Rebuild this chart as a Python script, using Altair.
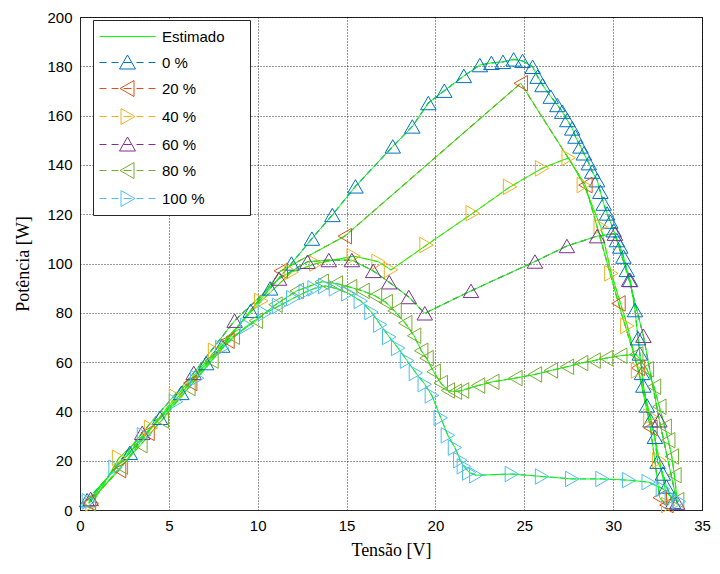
import altair as alt
import pandas as pd

# ---------------- data ----------------
niveis = ["0 %", "20 %", "40 %", "60 %", "80 %", "100 %"]
cores = ["#0072BD", "#D95319", "#EDB120", "#7E2F8E", "#77AC30", "#4DBEEE"]
formas = ["triangle-up", "triangle-left", "triangle-right",
          "triangle-up", "triangle-left", "triangle-right"]

v_0 = [0.4, 2.8, 4.5, 5.7, 7.1, 8.0, 9.6, 10.7, 11.9, 13.05, 14.2, 15.5, 17.6, 18.7,
       19.6, 20.5, 21.6, 22.5, 23.15, 23.8, 24.4, 24.9, 25.47, 25.75, 26.03, 26.49,
       26.86, 27.14, 27.42, 27.7, 27.88, 28.16, 28.35, 28.63, 28.82, 29.1, 29.28,
       29.47, 29.66, 29.84, 30.03, 30.21, 30.4, 30.58, 30.77, 30.96, 31.23, 31.4,
       31.5, 31.62, 31.7, 31.9, 32.1, 32.35, 32.5, 32.8, 33.0, 33.37]
p_0 = [4, 23.2, 37.4, 47.5, 59.6, 66.7, 80.8, 89.9, 100, 110.1, 119.7, 131.3, 147.5, 155.6,
       165.1, 170.1, 176.1, 180.5, 181.4, 181.8, 182.8, 182.2, 179.8, 175.8, 172.4, 167.7,
       164.3, 161.6, 158.2, 154.8, 151.5, 147.5, 144.7, 140.7, 137.3, 133.8, 129.1,
       124.3, 120.3, 117, 113.5, 109.5, 106.9, 102.8, 97.4, 93.3, 81.1, 69.7,
       63.5, 55.6, 50.5, 42.4, 36.4, 29.7, 19.6, 14.8, 9.5, 3.3]

v_20 = [0.5, 2.2, 3.8, 6.2, 8.3, 11.3, 14.9, 24.8, 28.44, 30.3, 31.4, 32.1, 32.62, 33.0]
p_20 = [3, 16.2, 31.3, 51.5, 68.7, 97, 111.1, 173.1, 131.8, 83.8, 57.6, 33.3, 5, 2]

v_40 = [0.7, 2.2, 4.0, 5.4, 7.6, 10.2, 11.9, 13.3, 15.4, 16.8, 17.5, 19.5, 22.1, 24.2,
        26.0, 27.5, 28.35, 29.3, 29.9, 30.8, 31.4, 32.1, 32.6, 33.1]
p_40 = [2.7, 21.2, 33.3, 46, 64.6, 84.8, 96.5, 100, 103, 100.7, 97.4, 107.5, 120.4, 131.1,
        138.6, 142.9, 131.8, 115, 96, 74.7, 56.6, 37.9, 20.2, 2]

v_60 = [0.6, 3.5, 6.4, 8.7, 11.2, 12.8, 14.0, 15.3, 16.5, 17.4, 18.5, 19.4, 22.0,
        25.6, 27.4, 29.1, 30.1, 30.9, 31.7, 32.6, 33.6]
p_60 = [4.5, 31.3, 55.6, 76.8, 93.9, 100.7, 101.4, 101.4, 97, 92.4, 86.4, 79.8, 88.9,
        100.8, 107.1, 111.1, 112.1, 93.4, 70.7, 36.4, 3]

v_80 = [0.5, 2.3, 3.4, 4.6, 6.1, 7.4, 8.6, 9.9, 11.0, 12.2, 13.6, 14.4, 15.2, 15.9,
        16.6, 17.2, 17.7, 18.3, 18.8, 19.2, 19.5, 19.9, 20.3, 20.7, 21.1, 21.5, 22.4,
        23.2, 24.5, 25.6, 26.5, 27.4, 28.2, 28.9, 29.6, 30.4, 31.3, 31.9, 32.3, 32.6,
        32.9, 33.1, 33.3, 33.45, 33.6]
p_80 = [2.7, 17.6, 26.3, 36.4, 49.5, 60.6, 70.3, 76.8, 83.3, 88.9, 92.6, 91.9, 90.4, 88.9,
        86.9, 84.3, 80.8, 75.8, 70.7, 64.6, 61.6, 56.1, 51.5, 48.5, 48, 48.5, 50.5,
        52, 53.5, 55, 56.6, 58.1, 59.6, 60.6, 61.6, 62.6, 63.1, 57.1, 50, 41.9,
        33.8, 28.3, 21.7, 14.1, 4]

v_100 = [0.5, 2.0, 3.6, 5.4, 6.6, 8.0, 9.4, 10.4, 11.2, 12.0, 12.7, 13.2, 13.8, 14.4,
         15.1, 15.8, 16.4, 16.9, 17.4, 17.9, 18.4, 18.9, 19.4, 19.8, 20.3, 20.7, 21.1,
         21.4, 21.6, 21.9, 22.3, 24.3, 26.0, 27.7, 29.4, 30.9, 32.0, 32.8, 33.3, 33.7]
p_100 = [3.5, 17.2, 30.3, 43.9, 53.5, 65.7, 74.7, 79.8, 82.8, 85.9, 88.4, 89.9, 90.9, 89.9,
         87.9, 84.8, 80.3, 75.2, 70.2, 65.7, 60.6, 55.6, 51, 46.5, 37.4, 30.3, 25.3,
         20.2, 17.7, 15.2, 14.1, 14.6, 13.6, 12.6, 12.6, 12.1, 11.3, 8.6, 5, 3.5]

tensoes = [v_0, v_20, v_40, v_60, v_80, v_100]
potencias = [p_0, p_20, p_40, p_60, p_80, p_100]

ticks_x = [0, 5, 10, 15, 20, 25, 30, 35]
ticks_y = [0, 20, 40, 60, 80, 100, 120, 140, 160, 180, 200]

legenda_nomes = ["Estimado"] + niveis
legenda_cores = ["#00FF00"] + cores

# ---------------- table ----------------
linhas = []
for nivel, vs, ps in zip(niveis, tensoes, potencias):
    for i, (v, p) in enumerate(zip(vs, ps)):
        linhas.append({"serie": nivel, "V": v, "P": p, "ordem": i})
df = pd.DataFrame(linhas)

# legend symbol paths (dashed line + triangle)
tracejado = "M-2.8,0H-2.1M-1.6,0H-0.9M-0.4,0H0.4M0.9,0H1.6M2.1,0H2.8"
tri = {
    "triangle-up": "M0,-0.75L0.8,0.65L-0.8,0.65Z",
    "triangle-left": "M-0.75,0L0.65,-0.8L0.65,0.8Z",
    "triangle-right": "M0.75,0L-0.65,-0.8L-0.65,0.8Z",
}
legenda_formas = ["M-2.8,0H2.8"] + [tracejado + tri[f] for f in formas]

x = alt.X("V:Q", scale=alt.Scale(domain=[0, 35], nice=False),
          axis=alt.Axis(values=ticks_x, title="Tensão [V]"))
y = alt.Y("P:Q", scale=alt.Scale(domain=[0, 200], nice=False),
          axis=alt.Axis(values=ticks_y, title="Potência [W]"))

cor = alt.Color("serie:N", scale=alt.Scale(domain=niveis, range=cores), legend=None)

tracos = alt.Chart(df).mark_line(strokeWidth=1.2, strokeDash=[6, 4]).encode(
    x=x, y=y, color=cor, order="ordem:Q")

estimado = alt.Chart(df).mark_line(color="#00FF00", strokeWidth=1).encode(
    x=x, y=y, detail="serie:N", order="ordem:Q")

pontos = alt.Chart(df).mark_point(size=240, filled=False, strokeWidth=1, opacity=1).encode(
    x=x, y=y, color=cor,
    shape=alt.Shape("serie:N", scale=alt.Scale(domain=niveis, range=formas), legend=None))

leg = alt.Legend(title=".", titleColor="white", titleOrient="right", titlePadding=16,
                 titleFontSize=10,
                 orient="none", legendX=13, legendY=3,
                 strokeColor="#262626", fillColor="white", padding=6,
                 labelFont="Liberation Sans", labelFontSize=15, labelColor="black",
                 rowPadding=7, symbolStrokeWidth=1, symbolSize=400,
                 symbolOffset=18, labelOffset=24, symbolOpacity=1)

df_leg = pd.DataFrame({"rotulo": legenda_nomes})
legenda = alt.Chart(df_leg).mark_point(size=400, filled=False, strokeWidth=1).encode(
    color=alt.Color("rotulo:N", scale=alt.Scale(domain=legenda_nomes, range=legenda_cores),
                    legend=leg),
    shape=alt.Shape("rotulo:N", scale=alt.Scale(domain=legenda_nomes, range=legenda_formas),
                    legend=leg),
).transform_filter("false")

chart = alt.layer(tracos, estimado, pontos, legenda).resolve_scale(
    shape="independent", color="independent"
).properties(
    width=622, height=493,
    autosize=alt.AutoSizeParams(type="none"),
    padding={"left": 72, "top": 9, "right": 10, "bottom": 56},
).configure_view(
    stroke="#262626", strokeWidth=1
).configure_axis(
    labelFont="Liberation Sans", labelFontSize=15, labelColor="black",
    titleFont="Liberation Serif", titleFontSize=18, titleFontWeight="normal",
    titleColor="black", ticks=False, labelPadding=8, labelFlush=False,
    domainColor="#262626", gridColor="#000000", gridDash=[1, 2], gridOpacity=0.8,
    grid=True,
).configure_axisX(titlePadding=8).configure_axisY(titlePadding=14)

chart.save("out.html", embed_options={"renderer": "svg", "actions": False})
